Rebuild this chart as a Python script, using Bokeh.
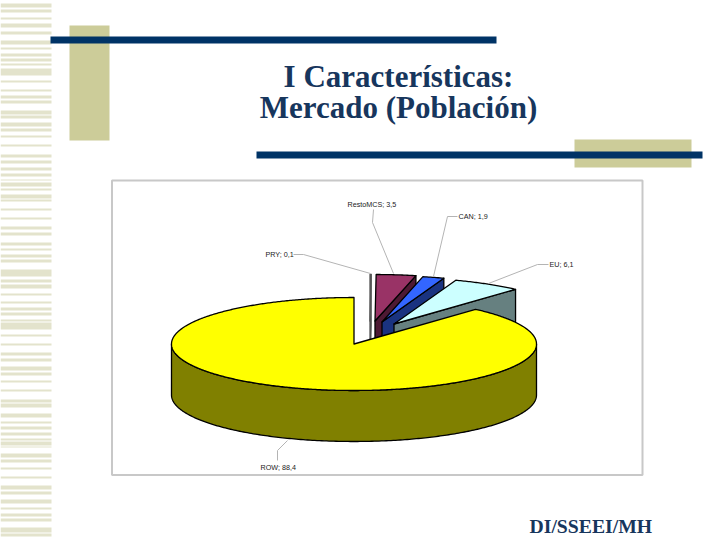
import numpy as np
from bokeh.plotting import figure
from bokeh.embed import file_html
from bokeh.resources import INLINE
from bokeh.core.properties import value

# data
names = ["PRY", "RestoMCS", "CAN", "EU", "ROW"]
shares = [0.1, 3.5, 1.9, 6.1, 88.4]
share_labels = ["0,1", "3,5", "1,9", "6,1", "88,4"]

# pie styling
top_colors = ["#FFFFFF", "#993366", "#3366FF", "#CCFFFF", "#FFFF00"]
wall_colors = ["#808080", "#4D1933", "#1A3380", "#668080", "#808000"]
edge_colors = ["#555555", "#000000", "#000000", "#000000", "#000000"]
pull = [(16, -23), (21, -23), (28, -22), (40, -20), (0, 0)]
label_pos = [(265, 254), (347, 203.5), (458, 216), (549, 264), (260, 467)]
leaders = [
    ([293, 303, 370], [254, 254, 273]),
    ([373, 372, 393], [209, 222, 273]),
    ([457, 447, 433], [216, 216, 276]),
    ([548, 537, 488], [264, 264, 283]),
    ([277, 277, 287], [460, 450, 440]),
]

# page decoration
strips = [(3,7),(9,12),(17,19),(23,27),(31,34),(40,44),(47,49),(53,56),(58,61),(63,65),(68,75),(80,82),
          (89,91),(95,98),(100,103),(110,114),(115,118),(122,126),(128,131),(135,137),(144,146),(154,157),
          (160,163),(167,170),(173,176),(179,180),(182,186),(188,190),(194,198),(199,201),(208,210),(217,219),
          (226,229),(232,235),(242,245),(248,250),(254,257),(259,262),(269,276),(279,282),(284,288),(293,295),
          (301,303),(307,310),(312,315),(319,321),(322,329),(334,336),(343,345),(352,355),(358,361),(366,370),
          (372,375),(380,382),(389,391),(399,402),(403,407),(413,417),(421,423),(426,429),(432,435),(438,440),
          (441,445),(446,447),(453,457),(459,462),(467,469),(476,478),(485,489),(491,494),(499,503),(507,509),
          (513,516),(518,521),(527,532),(533,536)]
title_lines = ["I Características:", "Mercado (Población)"]
footer = "DI/SSEEI/MH"

NAVY, KHAKI, STRIP, TXT = "#003366", "#CCCC99", "#E3E3CC", "#17365D"
CX, CY, RX, RY, DEPTH = 353.5, 343.5, 182.5, 46.5, 51

p = figure(width=720, height=540, x_range=(0, 720), y_range=(540, 0),
           output_backend="svg", toolbar_location=None, min_border=0,
           x_axis_type=None, y_axis_type=None, outline_line_color=None,
           background_fill_color="#FFFFFF", border_fill_color="#FFFFFF")
p.grid.visible = False

def box(x0, x1, y0, y1, **kw):
    p.quad(left=x0, right=x1, top=y0, bottom=y1, line_color=None, **kw)

p.quad(left=[0] * len(strips), right=[51] * len(strips),
       top=[s[0] for s in strips], bottom=[s[1] for s in strips],
       fill_color=STRIP, line_color=None)
box(69, 109, 25, 140, fill_color=KHAKI)
box(574, 691, 139, 167, fill_color=KHAKI)
box(50, 496, 36, 43, fill_color=NAVY)
box(256, 702, 151, 158, fill_color=NAVY)

p.quad(left=111.5, right=642, top=180, bottom=474.5, fill_color="#FFFFFF",
       line_color="#C8C8C8", line_width=2)

def pt(a, ox=0.0, oy=0.0):
    t = np.radians(a)
    return CX + ox + RX * np.sin(t), CY + oy - RY * np.cos(t)

edges = np.concatenate([[0], np.cumsum(shares)]) * 3.6

for i in range(len(names)):
    OUT = dict(line_color=edge_colors[i], line_width=1.3, line_join="round")
    ox, oy = pull[i]
    a0, a1 = edges[i], edges[i + 1]
    ax, ay = CX + ox, CY + oy
    ang = np.linspace(a0, a1, max(4, int(a1 - a0) * 2))
    xs, ys = pt(ang, ox, oy)
    if i < len(names) - 1:
        ex, ey = pt(a1, ox, oy)
        p.patch([ax, ex, ex, ax], [ay, ey, ey + DEPTH, ay + DEPTH],
                fill_color=wall_colors[i], **OUT)
    else:
        sa = np.linspace(90, 270, 240)
        sx, sy = pt(sa)
        p.patch(np.r_[sx, sx[::-1]], np.r_[sy, sy[::-1] + DEPTH],
                fill_color=wall_colors[i], **OUT)
    p.patch(np.r_[ax, xs], np.r_[ay, ys], fill_color=top_colors[i], **OUT)

for xs, ys in leaders:
    p.line(xs, ys, line_color="#B4B4B4", line_width=1)

p.text(x=[q[0] for q in label_pos], y=[q[1] for q in label_pos],
       text=[f"{n}; {s}" for n, s in zip(names, share_labels)],
       text_font=value("Liberation Sans"), text_font_size="7.2px",
       text_color="#222222", text_align="left", text_baseline="middle")

p.text(x=[398, 398], y=[75.5, 107], text=title_lines,
       text_font=value("Liberation Serif"), text_font_size="31px", text_font_style="bold",
       text_color=TXT, text_align="center", text_baseline="middle")
p.text(x=[529], y=[525], text=[footer],
       text_font=value("Liberation Serif"), text_font_size="19.7px", text_font_style="bold",
       text_color=TXT, text_align="left", text_baseline="middle")

open("out.html", "w").write(file_html(p, INLINE))
